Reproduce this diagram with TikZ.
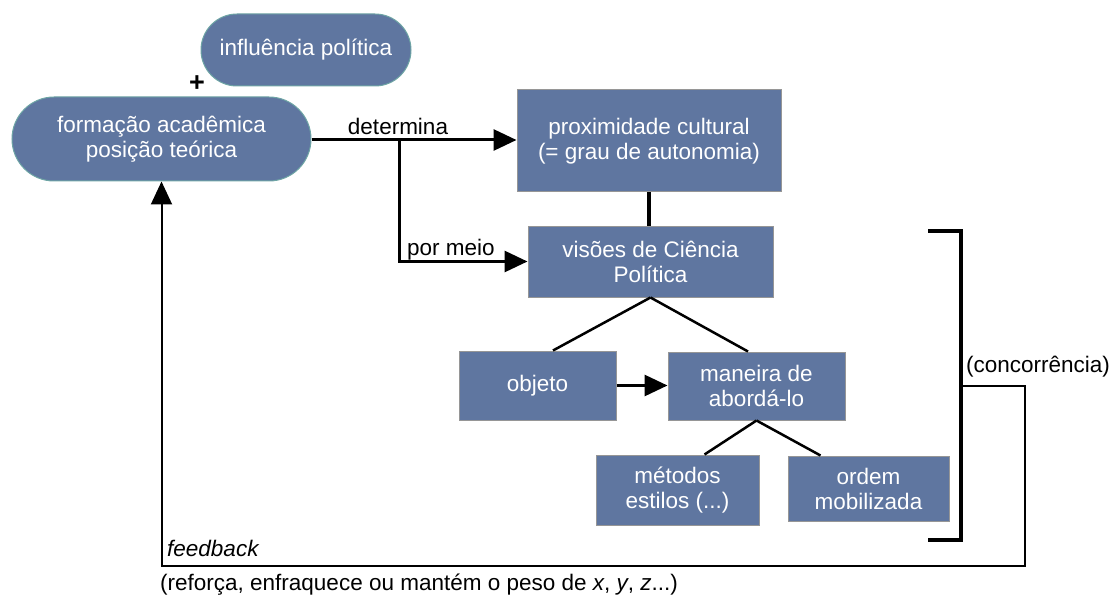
\documentclass[tikz,border=0pt]{standalone}
\usepackage{fontspec}
\setmainfont{Liberation Sans}
\usepackage{tikz}
\usetikzlibrary{arrows.meta}

\definecolor{boxfill}{RGB}{95,118,160}
\definecolor{pillline}{RGB}{110,165,165}
\definecolor{boxline}{RGB}{150,150,150}

\begin{document}
\begin{tikzpicture}[x=1pt,y=-1pt,font=\fontsize{22.5}{25}\selectfont]
  \tikzset{pill/.style = {shape=rectangle,draw=pillline,fill=boxfill,text=white,align=center,inner sep=0pt,line width=1pt}}
  \tikzset{box/.style = {shape=rectangle,draw=boxline,fill=boxfill,text=white,align=center,inner sep=0pt,line width=1pt}}
  \tikzset{edge/.style = {-{Triangle[length=23pt,width=21pt]},line width=3pt}}
  \tikzset{link/.style = {line width=2.5pt}}
  \tikzset{lbl/.style = {inner sep=0pt,text=black}}

  \useasboundingbox (0,0) rectangle (1116,596);

	\node[pill,minimum width=210pt,minimum height=72pt,rounded corners=36pt] (infl) at (306,50) {influência política};
	\node[pill,minimum width=299pt,minimum height=84pt,rounded corners=42pt] (form) at (161.5,139) {formação acadêmica\\posição teórica};
	\node[lbl,font=\fontsize{27}{30}\selectfont] (plus) at (197,84) {\textbf{+}};
	\node[box,minimum width=264pt,minimum height=102pt] (prox) at (649,141) {proximidade cultural\\(= grau de autonomia)};
	\node[box,minimum width=245pt,minimum height=71pt] (vis) at (650.5,261.5) {visões de Ciência\\Política};
	\node[box,minimum width=157pt,minimum height=69pt] (obj) at (537.5,385.5) {objeto};
	\node[box,minimum width=177pt,minimum height=68pt] (man) at (756.5,386) {maneira de\\abordá-lo};
	\node[box,minimum width=163pt,minimum height=70pt] (met) at (677.5,490) {métodos\\estilos (...)};
	\node[box,minimum width=161pt,minimum height=65pt] (ord) at (868.5,488.5) {ordem\\mobilizada};

	\coordinate (split) at (399,140);
	\coordinate (btop) at (928,231);
	\coordinate (bbot) at (928,540);
	\coordinate (bmid) at (961,386);
	\coordinate (fbcorner) at (1025,566);

	\draw[edge] (form.east |- split) -- (prox.west |- split);
	\draw[edge] (split) |- (vis.west);
	\draw[line width=4pt] (prox.south) -- (prox.south |- vis.north);
	\draw[edge] (obj.east) -- (obj.east -| man.west);

       \foreach \to/\dx in {obj/15.5,man/-8.5}
    \draw[link] (vis.south) -- ([xshift=\dx pt]\to.north);
       \foreach \to/\dx in {met/27,ord/-48}
    \draw[link] (man.south) -- ([xshift=\dx pt]\to.north);

	\draw[line width=4pt] (btop) -- ++(33,0) |- (bbot);
	\draw[-{Triangle[length=23pt,width=21pt]},line width=2pt] (bmid) -| (fbcorner) -| (form.south);

	\node[lbl,anchor=base] (det) at (398,135) {determina};
	\node[lbl,anchor=base west] (meio) at (407,255) {por meio};
	\node[lbl,anchor=base west] (conc) at (966,372) {(concorrência)};
	\node[lbl,anchor=base west] (fb) at (167,556) {\itshape feedback};
	\node[lbl,anchor=base west] (peso) at (160,590) {(reforça, enfraquece ou mantém o peso de \textit{x}, \textit{y}, \textit{z}...)};
\end{tikzpicture}
\end{document}
